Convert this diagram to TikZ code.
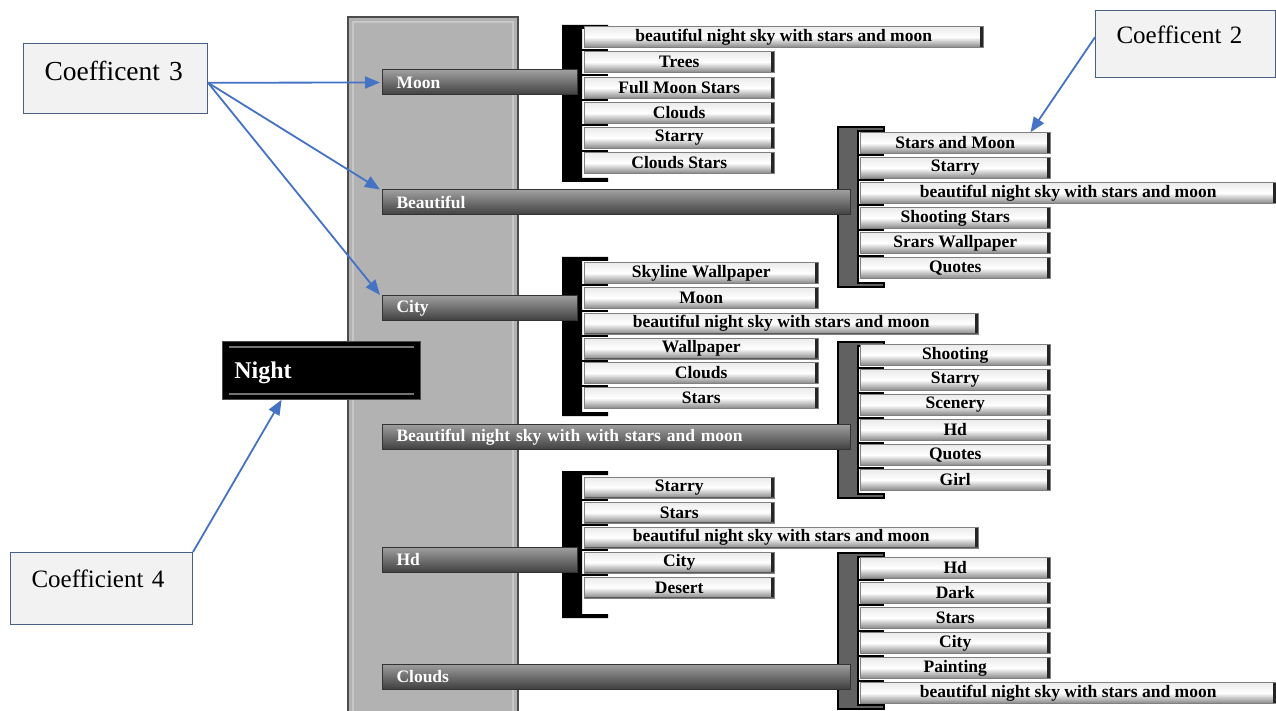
\documentclass[tikz,border=0pt]{standalone}
\usepackage{fontspec}
\setmainfont{Liberation Serif}
\usetikzlibrary{arrows.meta,calc}

\definecolor{pointerblue}{RGB}{68,114,196}
\definecolor{calloutedge}{RGB}{72,96,130}
\definecolor{calloutfill}{RGB}{242,242,242}

\newcommand\btnfont{\fontsize{17.5}{18}\selectfont\bfseries}
\newcommand\catfont{\fontsize{17.5}{18}\selectfont\bfseries}

\tikzset{every picture/.style={line width=0.75pt}}
\tikzset{
  btn/.style={draw=black!50, line width=0.5, top color=black!8, bottom color=black!48, middle color=white,
    minimum height=21, minimum width=#1, inner sep=0, anchor=west, font=\btnfont,
    path picture={
      \fill[black!85] ([xshift=-3.5pt]path picture bounding box.north east) rectangle (path picture bounding box.south east);
      \draw[black!65, line width=1.5] (path picture bounding box.south west) -- (path picture bounding box.south east);
    }},
  catbar/.style={draw=black!80, line width=1, top color=black!38, bottom color=black!75,
    minimum height=25, inner xsep=14, inner ysep=0, anchor=west, text=white, font=\catfont, align=left},
  callout/.style={draw=calloutedge, fill=calloutfill, line width=1, anchor=north west,
    inner xsep=21, inner ysep=0, align=left},
  lbrk/.style={fill=black},
  rbrk/.style={fill=black!62, draw=black, line width=1.5},
  brktick/.style={black, line width=2.5},
  pointer/.style={pointerblue, line width=1.8, -{Triangle[length=15pt,width=12pt]}},
}

\begin{document}
\begin{tikzpicture}[x=1pt,y=1pt,yscale=-1,xscale=1]
\useasboundingbox (0,0) rectangle (1276,711);

%Shape: Rectangle (grey panel)
\draw[fill=black!30, draw=black!70, line width=2] (348,17) rectangle (518,716);
\draw[black!22, line width=1.5] (353,22) rectangle (513,716);

% Night box
\node[fill=black, draw=black!70, anchor=north west, inner xsep=12, inner ysep=0, text width=174,
  text height=37, text depth=21, align=left, text=white, font=\fontsize{24}{24}\selectfont\bfseries] (night) at (222,341) {Night};
\draw[black!55, line width=1.5] ($(night.north west)+(7,6)$) -- ($(night.north east)+(-7,6)$);
\draw[black!55, line width=1.5] ($(night.south west)+(7,-6)$) -- ($(night.south east)+(-7,-6)$);

%Brackets (left, black)
\fill[lbrk] (562,25) rectangle (582,182) (582,25) rectangle (608,29) (582,178) rectangle (608,182);
\fill[lbrk] (562,257) rectangle (582,416) (582,257) rectangle (608,261) (582,412) rectangle (608,416);
\fill[lbrk] (562,471) rectangle (582,618) (582,471) rectangle (608,475) (582,614) rectangle (608,618);
\draw[brktick] (582,50)--(608,50) (582,75)--(608,75) (582,100)--(608,100) (582,125)--(608,125) (582,151)--(608,151);
\draw[brktick] (582,285)--(608,285) (582,311)--(608,311) (582,336)--(608,336) (582,361)--(608,361) (582,386)--(608,386);
\draw[brktick] (582,500)--(608,500) (582,525)--(608,525) (582,550)--(608,550) (582,575)--(608,575);

%Brackets (right, grey)
\draw[rbrk] (838,127) -- (884,127) -- (884,131) -- (858,131) -- (858,283) -- (884,283) -- (884,287) -- (838,287) -- cycle;
\draw[rbrk] (838,342) -- (884,342) -- (884,346) -- (858,346) -- (858,494) -- (884,494) -- (884,498) -- (838,498) -- cycle;
\draw[rbrk] (838,553) -- (884,553) -- (884,557) -- (858,557) -- (858,705) -- (884,705) -- (884,709) -- (838,709) -- cycle;
\draw[brktick] (858,155)--(884,155) (858,180)--(884,180) (858,205)--(884,205) (858,230)--(884,230) (858,256)--(884,256);
\draw[brktick] (858,368)--(884,368) (858,393)--(884,393) (858,418)--(884,418) (858,443)--(884,443) (858,468)--(884,468);
\draw[brktick] (858,580)--(884,580) (858,605)--(884,605) (858,631)--(884,631) (858,656)--(884,656) (858,681)--(884,681);

% Category bars
\node[catbar, text width=167] (moon) at (382,82.5) {Moon};
\node[catbar, text width=440] (beautiful) at (382,202.5) {Beautiful};
\node[catbar, text width=167] (city) at (382,308) {City};
\node[catbar, text width=440] (nightsky) at (382,437) {Beautiful night sky with with stars and moon};
\node[catbar, text width=167] (hd) at (382,560) {Hd};
\node[catbar, text width=440] (clouds) at (382,676.5) {Clouds};

% Moon group
\node[btn=399] (moon1) at (584,37) {beautiful night sky with stars and moon};
\node[btn=190] (moon2) at (584,62) {Trees};
\node[btn=190] (moon3) at (584,88) {Full Moon Stars};
\node[btn=190] (moon4) at (584,113) {Clouds};
\node[btn=190] (moon5) at (584,138) {Starry};
\node[btn=190] (moon6) at (584,163) {Clouds Stars};

% Beautiful group
\node[btn=190] (beau1) at (860,143) {Stars and Moon};
\node[btn=190] (beau2) at (860,168) {Starry};
\node[btn=416] (beau3) at (860,193) {beautiful night sky with stars and moon};
\node[btn=190] (beau4) at (860,218) {Shooting Stars};
\node[btn=190] (beau5) at (860,243) {Srars Wallpaper};
\node[btn=190] (beau6) at (860,268) {Quotes};

% City group
\node[btn=234] (city1) at (584,273) {Skyline Wallpaper};
\node[btn=234] (city2) at (584,298) {Moon};
\node[btn=394] (city3) at (584,323.5) {beautiful night sky with stars and moon};
\node[btn=234] (city4) at (584,348.5) {Wallpaper};
\node[btn=234] (city5) at (584,373) {Clouds};
\node[btn=234] (city6) at (584,398) {Stars};

% Night sky group
\node[btn=190] (sky1) at (860,355) {Shooting};
\node[btn=190] (sky2) at (860,380) {Starry};
\node[btn=190] (sky3) at (860,405) {Scenery};
\node[btn=190] (sky4) at (860,430) {Hd};
\node[btn=190] (sky5) at (860,455) {Quotes};
\node[btn=190] (sky6) at (860,480) {Girl};

% Hd group
\node[btn=190] (hd1) at (584,487.5) {Starry};
\node[btn=190] (hd2) at (584,512.5) {Stars};
\node[btn=394] (hd3) at (584,537.5) {beautiful night sky with stars and moon};
\node[btn=190] (hd4) at (584,562.5) {City};
\node[btn=190] (hd5) at (584,587.5) {Desert};

% Clouds group
\node[btn=190] (cloud1) at (860,568) {Hd};
\node[btn=190] (cloud2) at (860,593) {Dark};
\node[btn=190] (cloud3) at (860,618) {Stars};
\node[btn=190] (cloud4) at (860,643) {City};
\node[btn=190] (cloud5) at (860,668) {Painting};
\node[btn=416] (cloud6) at (860,693) {beautiful night sky with stars and moon};

% Callouts
\node[callout, text width=142, text height=37, text depth=33, font=\fontsize{27.5}{28}\selectfont] (coef3) at (23,43) {Coefficent 3};
\node[callout, text width=138, text height=33, text depth=34, font=\fontsize{25}{26}\selectfont] (coef2) at (1095,10) {Coefficent 2};
\node[callout, text width=140, text height=35, text depth=37, font=\fontsize{25}{26}\selectfont] (coef4) at (10,552) {Coefficient 4};

% Pointers
\coordinate (c3out) at ($(coef3.north east)!0.56!(coef3.south east)$);
\draw[pointer] (c3out) -- ([xshift=-2pt]moon.west);
\draw[pointer] (c3out) -- ([xshift=-2pt]beautiful.north west);
\draw[pointer] (c3out) -- ([xshift=-2pt]city.north west);
\draw[pointer] ($(coef2.north west)!0.4!(coef2.south west)$) -- ([xshift=-20pt]beau1.north east);
\draw[pointer] (coef4.north east) -- ($(night.south west)!0.3!(night.south east)$);

\end{tikzpicture}
\end{document}
